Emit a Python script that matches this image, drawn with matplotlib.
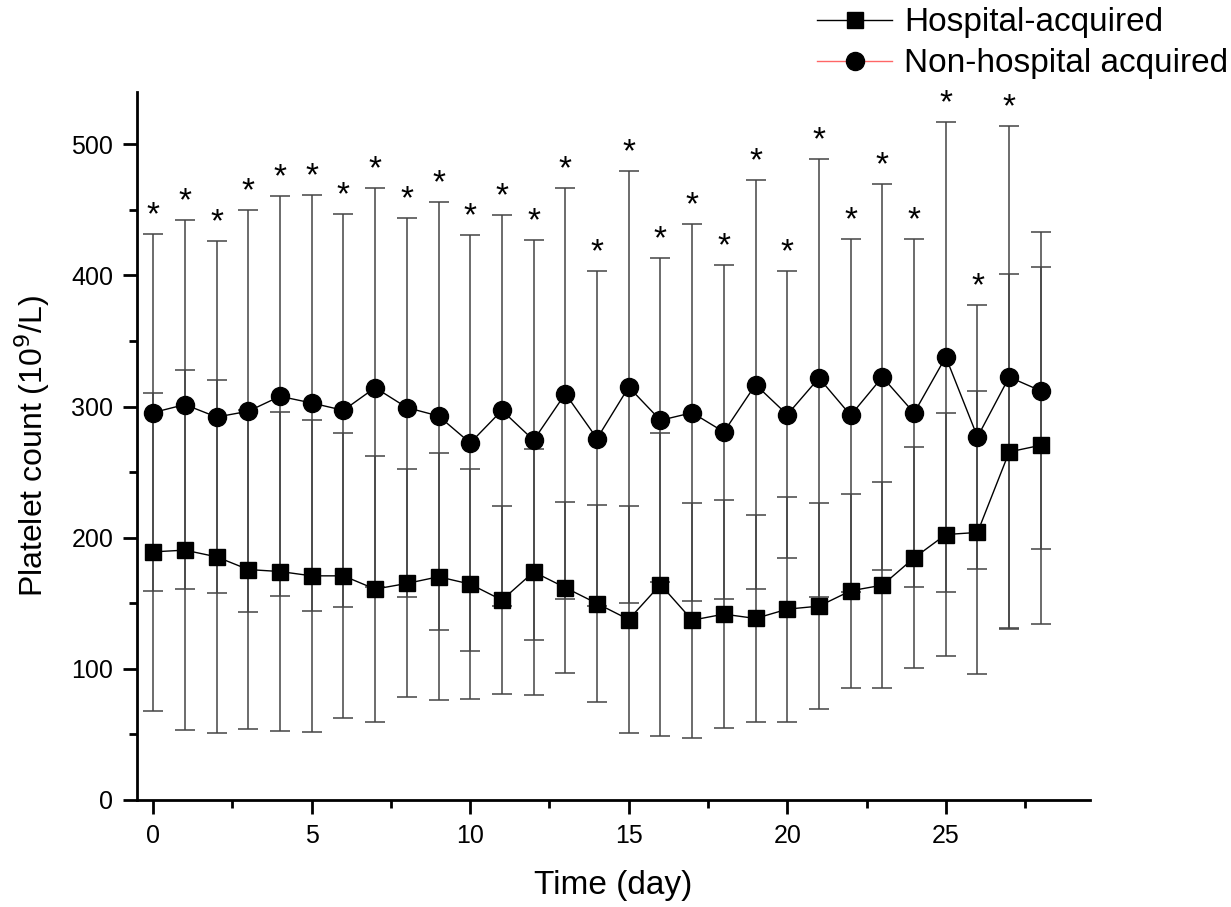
import numpy as np
import matplotlib.pyplot as plt
from matplotlib.lines import Line2D
from matplotlib.ticker import MultipleLocator

plt.rcParams['font.family'] = ['Liberation Sans', 'DejaVu Sans']

days = np.arange(29)

# platelet count, mean and SD per day
hosp_mean = [189.2, 190.5, 185.4, 175.7, 174.2, 170.9, 170.9, 160.8, 165.1, 170.2,
             164.6, 152.4, 173.9, 161.9, 149.8, 137.6, 164.3, 137.1, 141.7, 138.4,
             145.5, 147.8, 159.5, 163.8, 184.6, 202.4, 204.0, 265.4, 270.5]
hosp_sd = [121.1, 137.2, 134.6, 121.6, 121.9, 119.1, 108.7, 101.6, 86.9, 94.0,
           87.6, 71.6, 93.9, 65.4, 75.1, 86.3, 115.5, 89.6, 87.1, 79.2,
           85.8, 78.7, 73.9, 78.7, 84.3, 92.9, 107.7, 135.4, 136.2]
nonhosp_mean = [295.4, 301.5, 292.0, 296.4, 307.8, 302.7, 297.1, 314.4, 299.2, 292.8,
                272.2, 297.1, 274.3, 309.8, 275.6, 314.9, 289.5, 295.3, 280.6, 316.7,
                293.8, 321.8, 293.3, 322.5, 295.1, 337.8, 276.8, 322.5, 311.9]
nonhosp_sd = [136.3, 140.8, 133.9, 153.1, 152.6, 158.3, 149.9, 152.1, 144.6, 163.3,
              158.3, 149.1, 152.6, 156.7, 127.7, 164.8, 123.5, 143.8, 127.3, 155.9,
              109.5, 167.1, 134.4, 147.3, 132.8, 179.3, 100.6, 191.1, 120.9]
# days with a significant difference
signif_days = list(range(28))

fig = plt.figure(figsize=(12.31, 9.07), dpi=100)
ax = fig.add_axes([0.1113, 0.118, 0.7742, 0.7808])

eb_kw = dict(ecolor='#444444', elinewidth=1.1, capsize=7, capthick=1.1, zorder=1)
ax.errorbar(days, hosp_mean, yerr=hosp_sd, fmt='none', **eb_kw)
ax.errorbar(days, nonhosp_mean, yerr=nonhosp_sd, fmt='none', **eb_kw)
ax.plot(days, hosp_mean, color='black', lw=1, marker='s', ms=12,
        markerfacecolor='black', markeredgecolor='black', zorder=3)
ax.plot(days, nonhosp_mean, color='black', lw=1, marker='o', ms=13,
        markerfacecolor='black', markeredgecolor='black', zorder=3)

for d in signif_days:
    top = nonhosp_mean[d] + nonhosp_sd[d]
    ax.annotate('*', (d, top), xytext=(0, 2), textcoords='offset points',
                ha='center', va='bottom', fontsize=24)

ax.set_xlim(-0.51, 29.55)
ax.set_ylim(0, 540)
ax.xaxis.set_major_locator(MultipleLocator(5))
ax.xaxis.set_minor_locator(MultipleLocator(2.5))
ax.yaxis.set_major_locator(MultipleLocator(100))
ax.yaxis.set_minor_locator(MultipleLocator(50))
for s in ['top', 'right']:
    ax.spines[s].set_visible(False)
for s in ['left', 'bottom']:
    ax.spines[s].set_linewidth(2.0)
ax.tick_params(which='major', direction='out', length=10, width=2.0, labelsize=18, pad=7)
ax.tick_params(which='minor', direction='out', length=5.5, width=2.0)

ax.set_xlabel('Time (day)', fontsize=24, labelpad=16)
ax.set_ylabel('Platelet count (10$^9$/L)', fontsize=23, labelpad=14)

handles = [
    Line2D([], [], color='black', lw=1, marker='s', ms=12, markerfacecolor='black'),
    Line2D([], [], color='#ff6666', lw=1, marker='o', ms=13, markerfacecolor='black',
           markeredgecolor='black'),
]
fig.legend(handles, ['Hospital-acquired', 'Non-hospital acquired'],
           loc='upper right', bbox_to_anchor=(1.022, 1.025), frameon=False,
           fontsize=24, handlelength=2.25, handletextpad=0.35, labelspacing=0.3)

fig.savefig('out.png', dpi=100)
